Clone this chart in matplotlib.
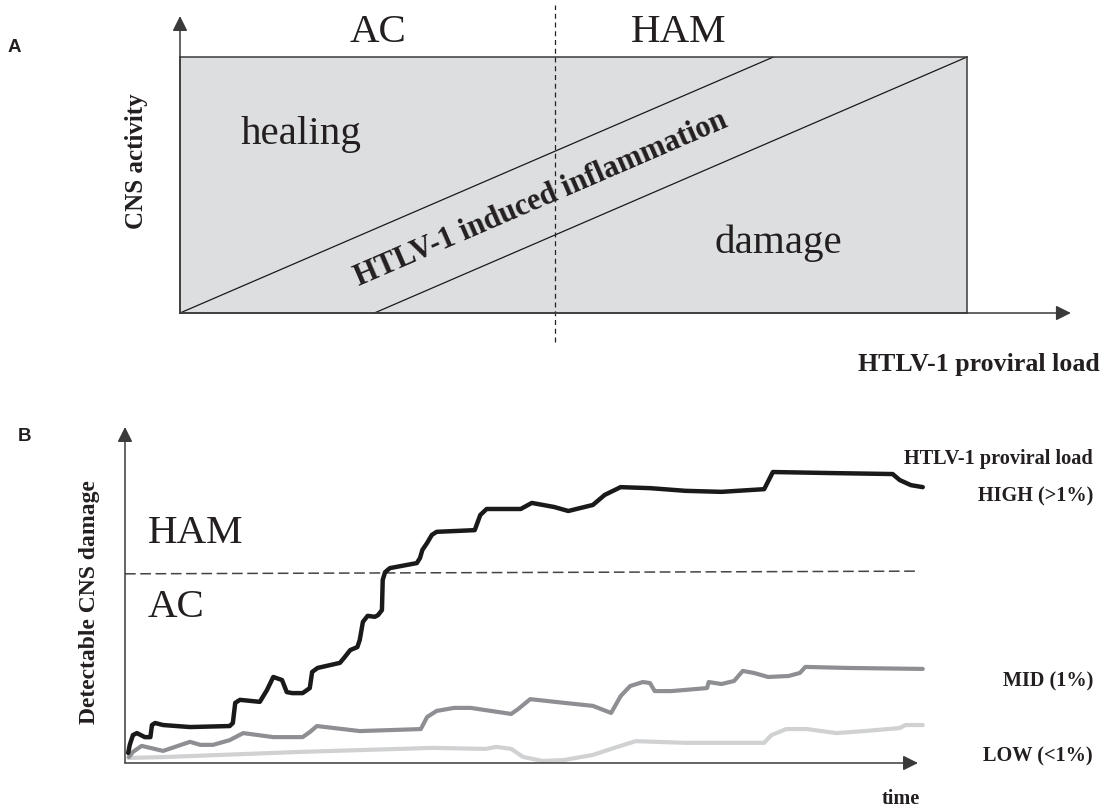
import matplotlib
matplotlib.use("Agg")
import matplotlib.pyplot as plt

W, H = 1116, 808

# ---- Panel B data: detectable CNS damage (0-100) against time (0-100) ----
time_high = [0.4, 0.6, 1.0, 1.5, 2.5, 3.2, 3.4, 3.8, 4.8, 8.2, 13.2, 13.6, 13.9, 14.5,
             17.0, 17.9, 18.7, 19.8, 20.4, 21.1, 22.4, 23.3, 23.6, 24.3, 27.1, 27.7,
             28.4, 29.3, 29.6, 30.0, 30.6, 31.5, 31.9, 32.4, 32.5, 32.8, 33.4, 36.8,
             37.2, 37.5, 38.1, 38.7, 39.3, 44.1, 44.8, 45.6, 49.9, 51.3, 54.1, 55.9,
             59.0, 60.5, 62.5, 66.2, 70.7, 75.2, 80.6, 81.7, 88.8, 96.8, 97.7, 99.1, 100.6]
damage_high = [3.0, 5.4, 8.3, 8.9, 7.7, 7.7, 11.3, 11.9, 11.3, 10.7, 11.0, 11.9, 17.9, 18.8,
               18.2, 21.7, 25.6, 24.7, 21.1, 20.8, 20.8, 22.3, 27.1, 28.3, 29.8, 31.5,
               33.6, 34.5, 36.6, 42.0, 43.8, 43.5, 44.0, 45.5, 54.5, 56.8, 58.0, 59.5,
               61.0, 63.4, 65.5, 67.9, 68.8, 69.3, 73.8, 75.6, 75.6, 77.4, 76.2, 75.0,
               76.8, 79.8, 82.1, 81.8, 81.0, 80.7, 81.5, 86.6, 86.3, 86.0, 84.2, 82.7, 82.1]

time_mid = [0.5, 1.0, 2.1, 4.8, 8.2, 9.5, 11.1, 13.2, 14.9, 18.7, 22.4, 23.3, 24.2, 29.6,
            37.3, 38.1, 39.3, 41.5, 43.6, 48.7, 49.6, 51.1, 55.4, 59.0, 61.3, 62.5, 63.7,
            65.3, 66.2, 66.8, 68.9, 73.4, 73.6, 75.2, 76.8, 77.9, 79.3, 81.1, 83.7, 85.1,
            85.8, 90.9, 100.6]
damage_mid = [1.8, 3.3, 5.1, 3.6, 6.3, 5.4, 5.4, 6.8, 8.9, 7.7, 7.7, 9.2, 11.0, 9.5,
              10.1, 13.7, 15.5, 16.4, 16.4, 14.6, 16.1, 19.0, 17.9, 17.0, 14.9, 19.9, 22.9,
              24.1, 23.8, 21.4, 21.4, 22.3, 24.1, 23.5, 24.4, 27.4, 26.8, 25.6, 25.9, 26.8,
              28.6, 28.3, 28.0]

time_low = [0.4, 5.3, 22.1, 38.8, 45.5, 46.8, 48.7, 50.2, 52.7, 55.4, 59.0, 61.7, 64.4,
            70.7, 80.6, 81.5, 83.4, 86.0, 89.7, 93.2, 97.7, 98.4, 100.6]
damage_low = [1.5, 1.8, 3.3, 4.5, 4.2, 4.8, 4.2, 1.8, 0.6, 0.9, 2.4, 4.5, 6.5,
              6.0, 6.0, 8.3, 10.1, 10.1, 8.9, 9.5, 10.4, 11.3, 11.3]

threshold_time = [0, 100]
threshold_damage = [56.3, 57.1]

load_labels = ["HIGH (>1%)", "MID (1%)", "LOW (<1%)"]

# ---- Panel A data: inflammation band edges (proviral load at activity 0 and 1) ----
band_activity = [0.0, 1.0]
band_upper_load = [0.0, 0.754]
band_lower_load = [0.247, 1.0]
ac_ham_split = 0.4765

SERIF = "Liberation Serif"
SANS = "Liberation Sans"
INK = "#231f20"
AXIS = "#3a3a3a"


def fx(px):
    return px / W


def fy(py):
    return 1 - py / H


fig = plt.figure(figsize=(W / 100, H / 100), dpi=100)

arrow = dict(arrowstyle="-|>,head_length=0.6,head_width=0.3", mutation_scale=15,
             color=AXIS, lw=1.1, shrinkA=0, shrinkB=0)

# ================= Panel A =================
ax_a = fig.add_axes([fx(180), fy(313), (967 - 180) / W, (313 - 57) / H])
ax_a.set_xlim(0, 1)
ax_a.set_ylim(0, 1)
ax_a.set_facecolor("#dddee0")
ax_a.set_xticks([])
ax_a.set_yticks([])
for sp in ax_a.spines.values():
    sp.set_color(AXIS)
    sp.set_linewidth(1.1)

ax_a.plot(band_upper_load, band_activity, color="#1a1a1a", lw=0.9)
ax_a.plot(band_lower_load, band_activity, color="#1a1a1a", lw=0.9)
ax_a.plot([ac_ham_split, ac_ham_split], [-0.113, 1.203], color="#222222", lw=0.9,
          ls=(0, (4, 3)), clip_on=False)

ax_a.annotate("", xy=(0, 1.16), xytext=(0, 0), xycoords="axes fraction",
              arrowprops=arrow, annotation_clip=False)
ax_a.annotate("", xy=(1.132, 0), xytext=(0, 0), xycoords="axes fraction",
              arrowprops=arrow, annotation_clip=False)

fig.text(fx(8), fy(52), "A", fontsize=13.5, fontweight="bold", family=SANS,
         color=INK, va="baseline", ha="left")
fig.text(fx(378), fy(42), "AC", fontsize=29.5, family=SERIF, color=INK,
         ha="center", va="baseline")
fig.text(fx(679), fy(42), "HAM", fontsize=29.5, family=SERIF, color=INK,
         ha="center", va="baseline")
fig.text(fx(241), fy(144), "healing", fontsize=29.5, family=SERIF, color=INK,
         ha="left", va="baseline")
fig.text(fx(715), fy(253), "damage", fontsize=29.5, family=SERIF, color=INK,
         ha="left", va="baseline")
fig.text(fx(541), fy(199), "HTLV-1 induced inflammation", fontsize=22, family=SERIF,
         fontweight="bold", color=INK, rotation=23.35, rotation_mode="anchor",
         ha="center", va="center")
fig.text(fx(137), fy(161), "CNS activity", fontsize=18, family=SERIF,
         fontweight="bold", color=INK, rotation=90, ha="center", va="center")
fig.text(fx(1100), fy(371), "HTLV-1 proviral load", fontsize=18.6, family=SERIF,
         fontweight="bold", color=INK, ha="right", va="baseline")

# ================= Panel B =================
ax_b = fig.add_axes([fx(125), fy(763), (918 - 125) / W, (763 - 427) / H])
ax_b.set_xlim(0, 100)
ax_b.set_ylim(0, 100)
ax_b.axis("off")

ax_b.annotate("", xy=(0, 1), xytext=(0, 0), xycoords="axes fraction",
              arrowprops=arrow, annotation_clip=False)
ax_b.annotate("", xy=(1, 0), xytext=(0, 0), xycoords="axes fraction",
              arrowprops=arrow, annotation_clip=False)

ax_b.plot(threshold_time, threshold_damage, color="#444444", lw=1.1,
          ls=(0, (7, 3)), clip_on=False)

line_kw = dict(solid_joinstyle="round", solid_capstyle="round", clip_on=False)
ax_b.plot(time_low, damage_low, color="#d0d1d3", lw=3.0, **line_kw)
ax_b.plot(time_mid, damage_mid, color="#8e8f93", lw=3.0, **line_kw)
ax_b.plot(time_high, damage_high, color="#1a1a1a", lw=3.2, **line_kw)

fig.text(fx(18), fy(441), "B", fontsize=13.5, fontweight="bold", family=SANS,
         color=INK, va="baseline", ha="left")
fig.text(fx(148), fy(543), "HAM", fontsize=29.5, family=SERIF, color=INK,
         ha="left", va="baseline")
fig.text(fx(148), fy(617), "AC", fontsize=29.5, family=SERIF, color=INK,
         ha="left", va="baseline")
fig.text(fx(89), fy(602), "Detectable CNS damage", fontsize=17, family=SERIF,
         fontweight="bold", color=INK, rotation=90, ha="center", va="center")

fig.text(fx(1093), fy(464), "HTLV-1 proviral load", fontsize=14.6, family=SERIF,
         fontweight="bold", color=INK, ha="right", va="baseline")
for label, base in zip(load_labels, [501, 686, 761]):
    fig.text(fx(1093), fy(base), label, fontsize=14.6, family=SERIF,
             fontweight="bold", color=INK, ha="right", va="baseline")
fig.text(fx(901), fy(804), "time", fontsize=14.6, family=SERIF,
         fontweight="bold", color=INK, ha="center", va="baseline")

fig.savefig("out.png", dpi=100, facecolor="white")
